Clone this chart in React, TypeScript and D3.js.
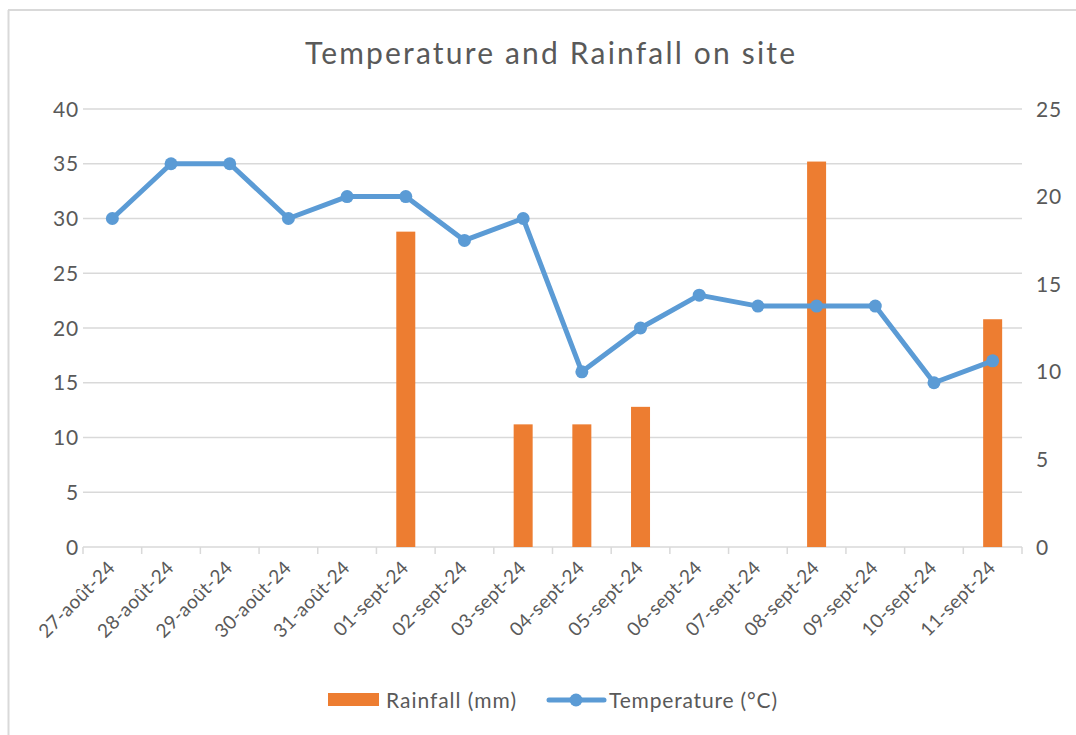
import React from "react";
import * as d3 from "d3";

const categories = [
  "27-août-24", "28-août-24", "29-août-24", "30-août-24", "31-août-24",
  "01-sept-24", "02-sept-24", "03-sept-24", "04-sept-24", "05-sept-24",
  "06-sept-24", "07-sept-24", "08-sept-24", "09-sept-24", "10-sept-24", "11-sept-24",
];
const temperature = [30, 35, 35, 30, 32, 32, 28, 30, 16, 20, 23, 22, 22, 22, 15, 17];
const rainfall = [0, 0, 0, 0, 0, 18, 0, 7, 7, 8, 0, 0, 22, 0, 0, 13];
const leftTicks = [0, 5, 10, 15, 20, 25, 30, 35, 40];
const rightTicks = [0, 5, 10, 15, 20, 25];

const W = 1076, H = 735;
const left = 83, right = 1022, top = 109, bottom = 547;
const FONT = "Lato, 'Open Sans', sans-serif";
const TXT = "#595959";
const GRID = "#d9d9d9";
const ORANGE = "#ED7D31";
const BLUE = "#5B9BD5";

export default function App() {
  const x = d3.scaleBand<string>().domain(categories).range([left, right]).padding(0);
  const yL = d3.scaleLinear().domain([0, 40]).range([bottom, top]);
  const yR = d3.scaleLinear().domain([0, 25]).range([bottom, top]);
  const cx = (c: string) => (x(c) as number) + x.bandwidth() / 2;
  const barW = 19;
  const line = d3.line<number>()
    .x((_, i) => cx(categories[i]))
    .y((d) => yL(d));
  const boundaries = d3.range(categories.length + 1).map((i) => left + i * x.bandwidth());

  return (
    <svg width={W} height={H} style={{ position: "absolute", left: 0, top: 0, background: "#fff" }}>
      <rect x={0} y={0} width={W} height={H} fill="#fff" />
      {/* frame */}
      <line x1={8.5} y1={10} x2={8.5} y2={H} stroke={GRID} strokeWidth={2} />
      <line x1={8} y1={10} x2={W} y2={10} stroke={GRID} strokeWidth={2} />

      <text x={305} y={64} textAnchor="start" fontFamily={FONT} fontSize={30} fill={TXT}
        textLength={490} lengthAdjust="spacing">
        Temperature and Rainfall on site
      </text>

      {/* gridlines */}
      {leftTicks.map((t) => (
        <line key={"g" + t} x1={left} x2={right} y1={yL(t)} y2={yL(t)} stroke={GRID} strokeWidth={1.5} />
      ))}
      {/* x ticks */}
      {boundaries.map((b, i) => (
        <line key={"xt" + i} x1={b} x2={b} y1={bottom} y2={bottom + 7} stroke={GRID} strokeWidth={1.5} />
      ))}
      {/* left labels */}
      {leftTicks.map((t) => (
        <text key={"l" + t} x={79} y={yL(t) + 7.5} textAnchor="end" fontFamily={FONT} fontSize={21} fill={TXT}
          letterSpacing={0.8}>
          {t}
        </text>
      ))}
      {rightTicks.map((t) => (
        <text key={"r" + t} x={1036} y={yR(t) + 7.5} textAnchor="start" fontFamily={FONT} fontSize={21} fill={TXT}
          letterSpacing={0.8}>
          {t}
        </text>
      ))}

      {/* bars */}
      {rainfall.map((v, i) =>
        v > 0 ? (
          <rect key={"b" + i} x={cx(categories[i]) - barW / 2} y={yR(v)} width={barW} height={bottom - yR(v)} fill={ORANGE} />
        ) : null
      )}

      {/* line */}
      <path d={line(temperature) as string} fill="none" stroke={BLUE} strokeWidth={5} strokeLinejoin="round" />
      {temperature.map((v, i) => (
        <circle key={"c" + i} cx={cx(categories[i])} cy={yL(v)} r={6.5} fill={BLUE} />
      ))}

      {/* x labels */}
      {categories.map((c) => {
        const px = cx(c) + 4;
        const py = 569;
        return (
          <text key={"x" + c} x={px} y={py} textAnchor="end" fontFamily={FONT} fontSize={19} fill={TXT}
            letterSpacing={0.3} transform={`rotate(-45 ${px} ${py})`}>
            {c}
          </text>
        );
      })}

      {/* legend */}
      <rect x={328} y={693} width={51} height={13} fill={ORANGE} />
      <text x={386} y={708} fontFamily={FONT} fontSize={21} fill={TXT} textLength={130} lengthAdjust="spacing">
        Rainfall (mm)
      </text>
      <line x1={549} x2={604} y1={700} y2={700} stroke={BLUE} strokeWidth={5} strokeLinecap="round" />
      <circle cx={576} cy={700} r={6.5} fill={BLUE} />
      <text x={609} y={708} fontFamily={FONT} fontSize={21} fill={TXT} textLength={168} lengthAdjust="spacing">
        Temperature (°C)
      </text>
    </svg>
  );
}
